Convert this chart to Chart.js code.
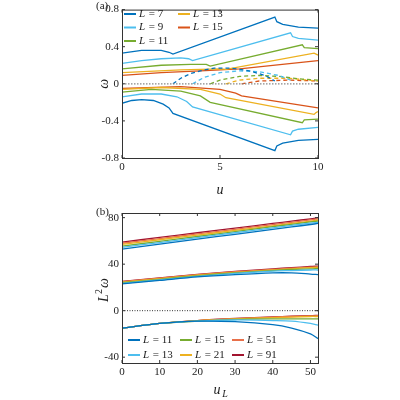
<!DOCTYPE html>
<html><head><meta charset="utf-8">
<script src="https://cdn.jsdelivr.net/npm/chart.js@4"></script>
<style>body{margin:0;background:#fff}div.c{position:absolute;left:0;width:400px;height:200px}</style>
</head><body>
<div class="c" style="top:0"><canvas id="a"></canvas></div>
<div class="c" style="top:200px"><canvas id="b"></canvas></div>
<script>
// ---- panel (a) data: [u, omega]
const topL = [7, 9, 11, 13, 15];
const topColors = ['#0072BD','#4DBEEE','#77AC30','#EDB120','#D95319'];
const upper7 = [[0,.33],[1,.36],[2,.36],[2.4,.34],[2.6,.32],[7.8,.72],[7.9,.67],[8.2,.64],[9,.61],[10,.60]];
const lower7 = [[0,-.21],[0.5,-.18],[1,-.17],[1.6,-.18],[2.1,-.22],[2.4,-.26],[2.6,-.32],[7.8,-.72],[7.9,-.67],[8.2,-.64],[9,-.61],[10,-.60]];
const dash7  = [[2.6,0],[3,.06],[3.5,.11],[4,.14],[4.7,.17],[5.5,.17],[6.5,.14],[7.3,.09],[7.8,.03]];
const upper9 = [[0,.22],[1,.25],[2,.27],[3,.28],[3.4,.27],[3.6,.25],[8.6,.55],[8.7,.51],[9,.49],[10,.47]];
const lower9 = [[0,-.14],[1,-.11],[2,-.11],[2.8,-.14],[3.3,-.19],[3.6,-.25],[8.6,-.55],[8.7,-.51],[9,-.49],[10,-.47]];
const dash9  = [[3.6,0],[4.2,.07],[5,.12],[6,.14],[7,.13],[8,.09],[8.6,.04]];
const upper11 = [[0,.16],[2,.2],[3.5,.21],[4.3,.21],[4.5,.19],[9.2,.42],[9.3,.39],[10,.38]];
const lower11 = [[0,-.09],[1.5,-.06],[3,-.08],[4,-.13],[4.5,-.2],[9.2,-.42],[9.3,-.39],[10,-.38]];
const dash11  = [[4.5,0],[5,.04],[6,.08],[7,.09],[8,.08],[9.2,.05],[10,.04]];
const upper13 = [[0,.12],[3,.15],[5,.16],[5.3,.155],[9.8,.33],[10,.31]];
const lower13 = [[0,-.06],[2,-.04],[4,-.06],[5,-.11],[5.3,-.15],[9.8,-.33],[9.9,-.31],[10,-.30]];
const dash13  = [[5.3,0],[6,.04],[7,.06],[8.5,.06],[10,.03]];
const upper15 = [[0,.09],[2,.12],[4,.14],[6,.16],[10,.25]];
const lower15 = [[0,-.05],[3,-.03],[5,-.06],[5.8,-.10],[6.1,-.13],[10,-.26]];
const dash15  = [[6.1,0],[7,.03],[8.5,.04],[10,.03]];
const topUpper = [upper7,upper9,upper11,upper13,upper15];
const topLower = [lower7,lower9,lower11,lower13,lower15];
const topDash = [dash7,dash9,dash11,dash13,dash15];
const topYTicks = [-0.8,-0.4,0,0.4,0.8];

// ---- panel (b) data
const botL = [11, 13, 15, 21, 51, 91];
const botColors = ['#0072BD','#4DBEEE','#77AC30','#EDB120','#E8704A','#A2142F'];
const uL = [0,10,20,30,40,45,50,52];
const band1 = [
 [53,57.2,61.5,65.7,69.9,72,74.1,75],
 [54.5,58.6,62.8,67,71.2,73.3,75.3,76],
 [55.5,59.6,63.8,68,72.2,74.3,76.3,77],
 [57,61,65,69,73,75,77,78],
 [58,62,66,70,74,76,78,79],
 [59,63,67,71,75,77,79,80]];
const band2 = [
 [23,26,29,31,32.5,32.5,31.5,31],
 [23.5,26.5,29.5,32,34,34.5,35,35],
 [24,27,30,32.5,34.5,35.5,36,36.3],
 [24.5,27.5,30.5,33,35,36,37,37.2],
 [25,28,31,33.5,35.5,36.5,37.5,37.8],
 [25.2,28.2,31.2,33.8,36,37,38,38.3]];
const band3 = [
 [-15,-11,-9,-9.5,-12,-15,-20,-24],
 [-15,-11,-9,-8,-8.5,-9,-11,-12.5],
 [-15,-11,-9,-7.5,-7,-7,-7,-7],
 [-15,-11,-8.5,-7,-6,-5.5,-5,-5],
 [-15,-11,-8.5,-6.8,-5.5,-5,-4.5,-4.3],
 [-15,-11,-8.5,-6.7,-5.3,-4.8,-4.3,-4]];
const botYTicks = [-40,0,40,80];

const FONT = 'Liberation Serif';
Chart.defaults.font.family = FONT;
Chart.defaults.color = '#222';
Chart.defaults.animation = false;

function pts(a){return a.map(p=>({x:p[0],y:p[1]}));}
function boxPlugin(label, legend, isB){
  return {id:'box'+label, afterDraw(c){
    const ctx=c.ctx, a=c.chartArea;
    ctx.save();
    ctx.strokeStyle='#333'; ctx.lineWidth=1;
    ctx.strokeRect(a.left+0.5,a.top+0.5,a.right-a.left,a.bottom-a.top);
    const xs=c.scales.x, ys=c.scales.y;
    ctx.beginPath();
    xs.ticks.forEach(t=>{const px=xs.getPixelForValue(t.value);ctx.moveTo(px,a.bottom);ctx.lineTo(px,a.bottom-3);ctx.moveTo(px,a.top);ctx.lineTo(px,a.top+3);});
    ys.ticks.forEach(t=>{const py=ys.getPixelForValue(t.value);ctx.moveTo(a.left,py);ctx.lineTo(a.left+3,py);ctx.moveTo(a.right,py);ctx.lineTo(a.right-3,py);});
    ctx.stroke();
    ctx.fillStyle='#222'; ctx.font='11px '+FONT; ctx.textBaseline='middle';
    ctx.fillText(label, 96, isB?12:6);
    // axis titles
    const cx=(a.left+a.right)/2, cy=(a.top+a.bottom)/2;
    ctx.textAlign='center';
    if(!isB){
      ctx.font='italic 14px '+FONT; ctx.fillText('u',cx,190);
      ctx.save(); ctx.translate(104,cy); ctx.rotate(-Math.PI/2); ctx.fillText('ω',0,0); ctx.restore();
    } else {
      ctx.font='italic 14px '+FONT; ctx.fillText('u',cx-3,190);
      ctx.font='italic 10px '+FONT; ctx.fillText('L',cx+5,194);
      ctx.save(); ctx.translate(104,cy); ctx.rotate(-Math.PI/2);
      ctx.textAlign='left';
      ctx.font='italic 14px '+FONT; ctx.fillText('L',-14,0);
      ctx.font='10px '+FONT; ctx.fillText('2',-6,-5);
      ctx.font='italic 14px '+FONT; ctx.fillText('ω',0,0);
      ctx.restore();
    }
    ctx.textAlign='left';
    legend.forEach(l=>{
      ctx.strokeStyle=l.color; ctx.lineWidth=2;
      ctx.beginPath(); ctx.moveTo(l.x,l.y); ctx.lineTo(l.x+12,l.y); ctx.stroke();
      ctx.fillStyle='#222';
      ctx.font='italic 11px '+FONT; ctx.fillText('L',l.x+15,l.y);
      ctx.font='11px '+FONT; ctx.fillText(' = '+l.L,l.x+22,l.y);
    });
    ctx.restore();
  }};
}
function scaleOpts(min,max,ticks,width,height,isX){
  return {type:'linear',min,max,
    afterBuildTicks:(s)=>{s.ticks=ticks.map(v=>({value:v}));},
    ticks:{font:{size:11},color:'#222',padding:3,maxRotation:0,callback:v=>String(v)},
    grid:{display:false,drawTicks:false},border:{display:false},
    title:{display:false},
    afterFit:isX?(s)=>{s.height=height;}:(s)=>{s.width=width;}};
}

// ---- chart (a)
const dsA=[{data:[{x:0,y:0},{x:10,y:0}],borderColor:'#888',borderWidth:1.2,borderDash:[1.5,1.5],pointRadius:0}];
topL.forEach((L,i)=>{
  dsA.push({data:pts(topUpper[i]),borderColor:topColors[i],borderWidth:1.3,pointRadius:0});
  dsA.push({data:pts(topLower[i]),borderColor:topColors[i],borderWidth:1.3,pointRadius:0});
  dsA.push({data:pts(topDash[i]),borderColor:topColors[i],borderWidth:1.3,borderDash:[4,3],pointRadius:0});
});
const legA=[];
topL.forEach((L,i)=>{const col=i<3?0:1,row=i<3?i:i-3;legA.push({x:col?178:124,y:14+row*13.5,L,color:topColors[i]});});
new Chart(document.getElementById('a'),{type:'line',data:{datasets:dsA},
 options:{responsive:true,maintainAspectRatio:false,layout:{padding:{top:8,right:82,left:0,bottom:0}},
  plugins:{legend:{display:false},tooltip:{enabled:false}},
  scales:{x:scaleOpts(0,10,[0,5,10],0,42,true),y:scaleOpts(-0.8,0.8,topYTicks,122,0,false)}},
 plugins:[boxPlugin('(a)',legA,false)]});

// ---- chart (b)
const dsB=[{data:[{x:0,y:0},{x:52,y:0}],borderColor:'#333',borderWidth:1,borderDash:[1,1.5],pointRadius:0}];
botL.forEach((L,i)=>{
  [band1,band2,band3].forEach(b=>{
    dsB.push({data:uL.map((u,k)=>({x:u,y:b[i][k]})),borderColor:botColors[i],borderWidth:1.3,pointRadius:0,tension:0.3});
  });
});
const legB=[];
botL.forEach((L,i)=>{const col=Math.floor(i/2),row=i%2;legB.push({x:128+col*52,y:140+row*15,L,color:botColors[i]});});
new Chart(document.getElementById('b'),{type:'line',data:{datasets:dsB},
 options:{responsive:true,maintainAspectRatio:false,layout:{padding:{top:13,right:82,left:0,bottom:0}},
  plugins:{legend:{display:false},tooltip:{enabled:false}},
  scales:{x:scaleOpts(0,52,[0,10,20,30,40,50],0,37,true),y:scaleOpts(-45,84,botYTicks,122,0,false)}},
 plugins:[boxPlugin('(b)',legB,true)]});
</script>
</body></html>
